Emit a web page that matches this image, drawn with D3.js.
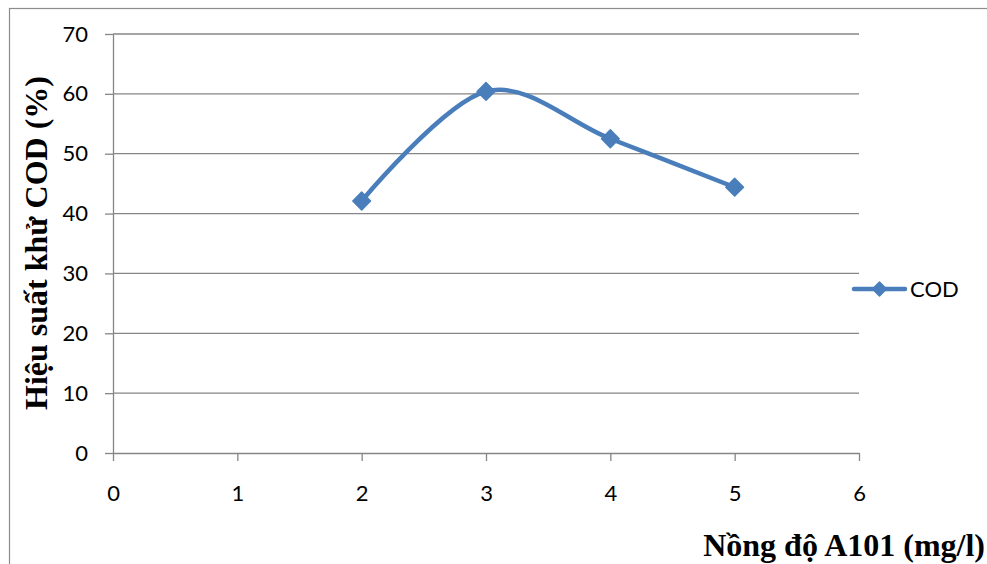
<!DOCTYPE html>
<html>
<head>
<meta charset="utf-8">
<script src="https://cdn.jsdelivr.net/npm/d3@7"></script>
<style>
  html, body { margin: 0; padding: 0; background: #fff; }
  svg { display: block; }
</style>
</head>
<body>
<svg id="chart" width="987" height="564"></svg>
<script>
// A101 dose (mg/l) and COD removal efficiency (%)
const doses = [2, 3, 4, 5];
const codRemoval = [42.1, 60.4, 52.5, 44.4];
const xTicks = [0, 1, 2, 3, 4, 5, 6];
const yTicks = [0, 10, 20, 30, 40, 50, 60, 70];
const seriesName = "COD";
const xTitle = "Nồng độ A101 (mg/l)";
const yTitle = "Hiệu suất khử COD (%)";

const svg = d3.select("#chart");
const W = 987, H = 564;
const plot = { left: 113, right: 859, top: 34, bottom: 453 };
const blue = "#4a7ebb";
const gridColor = "#868686";
const tickFont = "Lato, 'Open Sans', sans-serif";
const titleFont = "'Liberation Serif', 'Times New Roman', serif";

// outer chart border
svg.append("rect")
  .attr("x", 9.5).attr("y", 8.5)
  .attr("width", W + 20).attr("height", H + 20)
  .attr("fill", "none").attr("stroke", "#8c8c8c").attr("stroke-width", 1.2);

const x = d3.scaleLinear().domain([0, 6]).range([plot.left, plot.right]);
const y = d3.scaleLinear().domain([0, 70]).range([plot.bottom, plot.top]);

// horizontal gridlines
svg.append("g")
  .selectAll("line")
  .data(yTicks.filter(d => d > 0))
  .join("line")
  .attr("x1", plot.left).attr("x2", plot.right)
  .attr("y1", d => y(d)).attr("y2", d => y(d))
  .attr("stroke", gridColor).attr("stroke-width", 1.3);

// y axis
const yAxis = svg.append("g")
  .attr("transform", `translate(${plot.left},0)`)
  .call(d3.axisLeft(y).tickValues(yTicks).tickFormat(d3.format("d"))
    .tickSize(8).tickPadding(17).tickSizeOuter(0));
// x axis
const xAxis = svg.append("g")
  .attr("transform", `translate(0,${plot.bottom})`)
  .call(d3.axisBottom(x).tickValues(xTicks).tickFormat(d3.format("d"))
    .tickSize(8).tickPadding(24).tickSizeOuter(0));

[yAxis, xAxis].forEach(g => {
  g.attr("font-size", 22).attr("font-family", tickFont);
  g.select(".domain").attr("stroke", gridColor).attr("stroke-width", 1.3);
  g.selectAll(".tick line").attr("stroke", gridColor).attr("stroke-width", 1.3);
  g.selectAll(".tick text").attr("fill", "#000");
});

// smoothed series line
const pts = doses.map((d, i) => [x(d), y(codRemoval[i])]);
svg.append("path")
  .attr("d", d3.line().curve(d3.curveCardinal.tension(0))(pts))
  .attr("fill", "none").attr("stroke", blue).attr("stroke-width", 4.5)
  .attr("stroke-linecap", "round").attr("stroke-linejoin", "round");

// diamond markers
svg.append("g")
  .selectAll("path")
  .data(pts)
  .join("path")
  .attr("transform", d => `translate(${d[0]},${d[1]})`)
  .attr("d", d3.symbol().type(d3.symbolDiamond2).size(200))
  .attr("fill", blue).attr("stroke", blue).attr("stroke-width", 1.5)
  .attr("stroke-linejoin", "round");

// legend
const lg = svg.append("g").attr("transform", "translate(852,289)");
lg.append("line").attr("x1", 2).attr("x2", 53).attr("y1", 0).attr("y2", 0)
  .attr("stroke", blue).attr("stroke-width", 4.5).attr("stroke-linecap", "round");
lg.append("path").attr("transform", "translate(27.5,0)")
  .attr("d", d3.symbol().type(d3.symbolDiamond2).size(125))
  .attr("fill", blue).attr("stroke", blue).attr("stroke-width", 1.5)
  .attr("stroke-linejoin", "round");
lg.append("text").attr("x", 58).attr("y", 0).attr("dy", "0.35em")
  .attr("font-family", tickFont).attr("font-size", 22).attr("fill", "#000")
  .text(seriesName);

// axis titles
svg.append("text")
  .attr("x", 985).attr("y", 556)
  .attr("text-anchor", "end")
  .attr("font-family", titleFont).attr("font-weight", "bold").attr("font-size", 32)
  .attr("fill", "#000")
  .text(xTitle);

svg.append("text")
  .attr("transform", "translate(47,243) rotate(-90)")
  .attr("text-anchor", "middle")
  .attr("font-family", titleFont).attr("font-weight", "bold").attr("font-size", 32)
  .attr("fill", "#000")
  .text(yTitle);
</script>
</body>
</html>
